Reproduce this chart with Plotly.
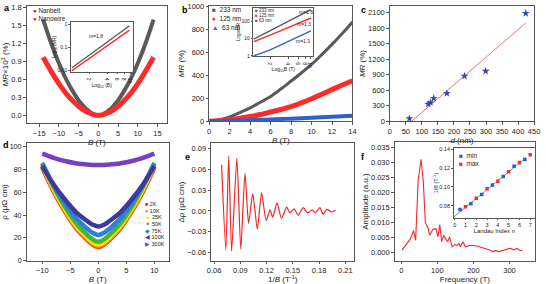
import plotly.graph_objects as go

W, H = 546, 284
FONT = "Liberation Sans, Arial, sans-serif"
TXT = "#222222"
AX = "#555555"

# ---------------- data ----------------
# a: MR x10^3 (%) vs B (T)
a_B = [-14, -12, -10, -8, -6, -5, -4, -3, -2, -1, 0, 1, 2, 3, 4, 5, 6, 8, 10, 12, 14]
a_nanobelt = [1.60, 1.21, 0.87, 0.58, 0.35, 0.25, 0.17, 0.10, 0.05, 0.012, 0.0,
              0.012, 0.05, 0.10, 0.17, 0.25, 0.35, 0.58, 0.87, 1.21, 1.60]
a_nanowire = [0.97, 0.74, 0.53, 0.35, 0.21, 0.15, 0.10, 0.06, 0.03, 0.008, 0.0,
              0.008, 0.03, 0.06, 0.10, 0.15, 0.21, 0.35, 0.53, 0.74, 0.97]
# a inset (log-log)
ai_B = [1.0, 9.7]
ai_nanobelt = [0.013, 0.90]
ai_nanowire = [0.0098, 0.58]

# b: MR (%) vs B (T)
b_B = [0, 1, 2, 3, 4, 5, 6, 7, 8, 9, 10, 11, 12, 13, 14]
b_233 = [0, 12, 38, 75, 116, 165, 215, 280, 350, 420, 495, 580, 670, 765, 865]
b_125 = [0, 4, 12, 25, 40, 58, 80, 102, 127, 160, 196, 235, 275, 315, 352]
b_63 = [0, 1, 3, 5, 8, 11, 15, 18, 22, 26, 30, 34, 38, 43, 48]
# b inset (log-log)
bi_B = [1.0, 1.9, 10.0]
bi_233 = [9.0, 27.0, 460.0]
bi_125 = [6.5, 15.0, 150.0]
bi_63 = [1.0, 2.1, 27.0]

# c: MR vs thickness
c_d = [61, 120, 127, 137, 178, 233, 299, 424]
c_MR = [50, 329, 361, 443, 538, 873, 968, 2088]
c_fit_d = [68, 424]
c_fit_MR = [0, 1900]

# d: resistivity vs B at several temperatures
d_B = [-10, -8, -6, -4, -3, -2, -1, 0, 1, 2, 3, 4, 6, 8, 10]
d_temps = ["2K", "10K", "25K", "50K", "75K", "100K", "300K"]
d_rho = {
    "2K":   [82.0, 61.0, 43.5, 28.8, 23.2, 18.3, 14.1, 12.0, 14.1, 18.3, 23.2, 28.8, 43.5, 61.0, 82.0],
    "10K":  [83.0, 61.9, 44.2, 29.4, 23.8, 18.8, 14.6, 12.5, 14.6, 18.8, 23.8, 29.4, 44.2, 61.9, 83.0],
    "25K":  [84.0, 63.0, 45.5, 30.8, 25.2, 20.3, 16.1, 14.0, 16.1, 20.3, 25.2, 30.8, 45.5, 63.0, 84.0],
    "50K":  [86.0, 65.2, 47.8, 33.2, 27.6, 22.8, 18.6, 16.5, 18.6, 22.8, 27.6, 33.2, 47.8, 65.2, 86.0],
    "75K":  [85.0, 66.3, 50.6, 37.5, 32.5, 28.1, 24.4, 22.5, 24.4, 28.1, 32.5, 37.5, 50.6, 66.3, 85.0],
    "100K": [83.0, 67.1, 53.9, 42.7, 38.5, 34.8, 31.6, 30.0, 31.6, 34.8, 38.5, 42.7, 53.9, 67.1, 83.0],
    "300K": [94.0, 90.4, 87.6, 85.6, 84.9, 84.4, 84.1, 84.0, 84.1, 84.4, 84.9, 85.6, 87.6, 90.4, 94.0],
}
d_colors = ["#ff1a1a", "#ff6a1a", "#f2e600", "#44b53a", "#2f7fd8", "#3a3aa0", "#7a3fc0"]
d_symbols = ["■", "●", "▲", "▼", "◆", "◀", "▶"]

# e: oscillatory part vs 1/B
e_x = [0.0686, 0.0734, 0.0767, 0.0800, 0.0860, 0.0905, 0.0953, 0.0994, 0.1042, 0.1094,
       0.1143, 0.1195, 0.1240, 0.1270, 0.1320, 0.1370, 0.1430, 0.1467, 0.1515, 0.1560,
       0.1620, 0.1670, 0.1720, 0.1756, 0.1810, 0.1845, 0.1890, 0.1940, 0.1990]
e_y = [0.066, -0.056, 0.079, -0.058, 0.076, -0.055, 0.054, -0.018, 0.025, -0.026,
       0.026, -0.014, 0.0014, -0.009, 0.0115, -0.0106, 0.0055, -0.003, 0.003, -0.006,
       0.0046, -0.003, 0.0014, -0.0023, 0.0046, -0.0046, 0.0023, -0.0014, 0.001]

# f: FFT amplitude
f_freq = [2, 15, 26, 34, 40, 47, 55, 61, 67, 75, 79, 88, 96, 102, 107, 112, 118, 123, 129,
          134, 141, 148, 154, 160, 164, 171, 178, 189, 202, 216, 230, 243, 253, 262, 271,
          280, 294, 303, 312, 321, 330, 336]
f_amp = [0.0008, 0.0027, 0.0046, 0.0073, 0.0041, 0.024, 0.031, 0.024, 0.010, 0.0079,
         0.0057, 0.0077, 0.0079, 0.0052, 0.0092, 0.0036, 0.0057, 0.0046, 0.0036, 0.0052,
         0.0019, 0.0027, 0.0023, 0.0030, 0.0019, 0.0036, 0.0019, 0.0023, 0.0023, 0.0019,
         0.0014, 0.0009, 0.0003, 0.0006, 0.0003, 0.0006, 0.0011, 0.0014, 0.0009, 0.0014,
         0.0006, 0.0009]
# f inset: Landau fan
fi_n_min = [0.5, 1.5, 2.5, 3.5, 4.5, 5.5, 6.5]
fi_min = [0.076, 0.082, 0.092, 0.102, 0.111, 0.122, 0.129]
fi_n_max = [1, 2, 3, 4, 5, 6, 7]
fi_max = [0.079, 0.088, 0.098, 0.106, 0.116, 0.126, 0.134]
fi_fit_n = [-0.1, 6.6]
fi_fit = [0.068, 0.131]

# ---------------- helpers ----------------
def dom_x(x0, x1):
    return [x0 / W, x1 / W]

def dom_y(y0, y1):
    return [1 - y1 / H, 1 - y0 / H]

def axis(domain, rng, title="", fs=7.5, tfs=8, standoff=1, **kw):
    d = dict(domain=domain, range=rng, showline=True, mirror=True, linecolor=AX,
             linewidth=1, ticks="outside", ticklen=2.5, tickcolor=AX, tickwidth=1,
             showgrid=False, zeroline=False, tickfont=dict(size=fs, color=TXT, family=FONT),
             title=dict(text=title, font=dict(size=tfs, color=TXT, family=FONT), standoff=standoff))
    d.update(kw)
    return d

fig = go.Figure()

# a main
fig.add_trace(go.Scatter(x=a_B, y=a_nanobelt, mode="lines", line=dict(color="#5a5a5a", width=4, shape="spline"),
                         xaxis="x", yaxis="y", showlegend=False))
fig.add_trace(go.Scatter(x=a_B, y=a_nanowire, mode="lines", line=dict(color="#ff2a2a", width=5, shape="spline"),
                         xaxis="x", yaxis="y", showlegend=False))
# a inset
fig.add_trace(go.Scatter(x=ai_B, y=ai_nanobelt, mode="lines", line=dict(color="#555555", width=1.3),
                         xaxis="x2", yaxis="y2", showlegend=False))
fig.add_trace(go.Scatter(x=ai_B, y=ai_nanowire, mode="lines", line=dict(color="#ff2a2a", width=1.3),
                         xaxis="x2", yaxis="y2", showlegend=False))
# b main
fig.add_trace(go.Scatter(x=b_B, y=b_233, mode="lines", line=dict(color="#5a5a5a", width=3, shape="spline"),
                         xaxis="x3", yaxis="y3", showlegend=False))
fig.add_trace(go.Scatter(x=b_B, y=b_125, mode="lines", line=dict(color="#ff2a2a", width=5, shape="spline"),
                         xaxis="x3", yaxis="y3", showlegend=False))
fig.add_trace(go.Scatter(x=b_B, y=b_63, mode="lines", line=dict(color="#3060c8", width=4, shape="spline"),
                         xaxis="x3", yaxis="y3", showlegend=False))
# b inset
fig.add_trace(go.Scatter(x=bi_B, y=bi_233, mode="lines", line=dict(color="#555555", width=1.4),
                         xaxis="x4", yaxis="y4", showlegend=False))
fig.add_trace(go.Scatter(x=bi_B, y=bi_125, mode="lines", line=dict(color="#ff2a2a", width=1.4),
                         xaxis="x4", yaxis="y4", showlegend=False))
fig.add_trace(go.Scatter(x=bi_B, y=bi_63, mode="lines", line=dict(color="#3060c8", width=1.4),
                         xaxis="x4", yaxis="y4", showlegend=False))
# c
fig.add_trace(go.Scatter(x=c_fit_d, y=c_fit_MR, mode="lines", line=dict(color="#f07070", width=1),
                         xaxis="x5", yaxis="y5", showlegend=False))
fig.add_trace(go.Scatter(x=c_d, y=c_MR, mode="markers", marker=dict(symbol="star", size=6, color="#3346b8"),
                         xaxis="x5", yaxis="y5", showlegend=False))
# d
for t, col in zip(d_temps, d_colors):
    fig.add_trace(go.Scatter(x=d_B, y=d_rho[t], mode="lines", line=dict(color=col, width=4.5, shape="spline"),
                             xaxis="x6", yaxis="y6", showlegend=False))
# e
fig.add_trace(go.Scatter(x=e_x, y=e_y, mode="lines", line=dict(color="#f02828", width=1.2, shape="spline", smoothing=0.6),
                         xaxis="x7", yaxis="y7", showlegend=False))
# f
fig.add_trace(go.Scatter(x=f_freq, y=f_amp, mode="lines", line=dict(color="#f02828", width=1.1),
                         xaxis="x8", yaxis="y8", showlegend=False))
# f inset
fig.add_trace(go.Scatter(x=fi_fit_n, y=fi_fit, mode="lines", line=dict(color="#3cb371", width=1),
                         xaxis="x9", yaxis="y9", showlegend=False))
fig.add_trace(go.Scatter(x=fi_n_min, y=fi_min, mode="markers", marker=dict(symbol="square", size=3.5, color="#3355dd"),
                         xaxis="x9", yaxis="y9", showlegend=False))
fig.add_trace(go.Scatter(x=fi_n_max, y=fi_max, mode="markers", marker=dict(symbol="square", size=3.5, color="#ff2a2a"),
                         xaxis="x9", yaxis="y9", showlegend=False))

lay = dict(width=W, height=H, margin=dict(l=0, r=0, t=0, b=0), paper_bgcolor="white",
           plot_bgcolor="white", font=dict(family=FONT, color=TXT), showlegend=False)

# a
lay["xaxis"] = axis(dom_x(23, 166), [-18.2, 17.4], "<i>B</i> (T)", tickvals=[-15, -10, -5, 0, 5, 10, 15], anchor="y")
lay["yaxis"] = axis(dom_y(2, 123), [-0.13, 1.83], "<i>MR</i>×10<sup>3</sup> (%)",
                    tickvals=[0, 0.3, 0.6, 0.9, 1.2, 1.5, 1.8], tickformat=".1f", anchor="x")
# a inset
lay["xaxis2"] = axis(dom_x(68, 131), [-0.02, 1.04], "Log<sub>10</sub> (B)", fs=5, tfs=5, type="log",
                     tickvals=[2, 4, 6, 8, 10], ticktext=["2", "4", "6", "8", "10"], anchor="y2", ticklen=1.5,
                     standoff=0)
lay["yaxis2"] = axis(dom_y(19, 70), [-2.06, 0.1], "Log<sub>10</sub> (MR)", fs=5, tfs=4.5, type="log",
                     tickvals=[0.01, 0.1, 1], ticktext=["0.01", "0.1", "1"], anchor="x2", ticklen=1.5,
                     standoff=0)
# b
lay["xaxis3"] = axis(dom_x(209, 355), [0, 14], "<i>B</i> (T)", tickvals=list(range(0, 15, 2)), anchor="y3")
lay["yaxis3"] = axis(dom_y(2, 121), [0, 1005], "<i>MR</i> (%)", tickvals=[0, 200, 400, 600, 800, 1000], anchor="x3")
# b inset
lay["xaxis4"] = axis(dom_x(254, 315), [-0.005, 1.04], "Log<sub>10</sub>B (T)", fs=5, tfs=5, type="log",
                     tickvals=[2, 4, 6, 8, 10], ticktext=["2", "4", "6", "8", "10"], anchor="y4", ticklen=1.5,
                     standoff=0)
lay["yaxis4"] = axis(dom_y(4, 54), [-0.03, 2.76], "Log<sub>10</sub>MR", fs=5, tfs=4.5, type="log",
                     tickvals=[1, 10, 100], ticktext=["1", "10", "100"], anchor="x4", ticklen=1.5,
                     standoff=0)
# c
lay["xaxis5"] = axis(dom_x(393, 540), [0, 450], "<i>d</i> (nm)", tickvals=list(range(0, 451, 50)), anchor="y5")
lay["yaxis5"] = axis(dom_y(2, 121), [0, 2230], "<i>MR</i> (%)", tickvals=list(range(0, 2101, 300)), anchor="x5")
# d
lay["xaxis6"] = axis(dom_x(23, 168), [-12.8, 12.6], "<i>B</i> (T)", tickvals=[-10, -5, 0, 5, 10], anchor="y6")
lay["yaxis6"] = axis(dom_y(144, 265), [0, 103], "ρ (μΩ cm)", tickvals=[0, 20, 40, 60, 80, 100], anchor="x6",
                     fs=7.2)
# e
lay["xaxis7"] = axis(dom_x(211, 357), [0.0566, 0.2205], "1/<i>B</i> (T<sup>-1</sup>)",
                     tickvals=[0.06, 0.09, 0.12, 0.15, 0.18, 0.21], tickformat=".2f", anchor="y7")
lay["yaxis7"] = axis(dom_y(144, 265), [-0.0715, 0.097], "Δρ (μΩ cm)",
                     tickvals=[-0.06, -0.03, 0, 0.03, 0.06, 0.09], tickformat=".2f", anchor="x7")
# f
lay["xaxis8"] = axis(dom_x(398, 541), [-18, 371], "Frequency (T)", tickvals=[0, 100, 200, 300], anchor="y8")
lay["yaxis8"] = axis(dom_y(143, 265), [-0.0027, 0.0366], "Amplitude (a.u.)",
                     tickvals=[0, 0.005, 0.01, 0.015, 0.02, 0.025, 0.03, 0.035], tickformat=".3f", anchor="x8")
# f inset
lay["xaxis9"] = axis(dom_x(458, 541), [-0.1, 7.45], "Landau Index n", fs=5.5, tfs=6,
                     tickvals=list(range(0, 8)), anchor="y9", ticklen=1.5, standoff=0)
lay["yaxis9"] = axis(dom_y(149, 221), [0.067, 0.141], "1/B (T<sup>-1</sup>)", fs=5.5, tfs=5.5,
                     tickvals=[0.08, 0.10, 0.12, 0.14], tickformat=".2f", anchor="x9", ticklen=1.5,
                     standoff=0)

ann = []

def text(px, py, s, size=7, xanchor="left", yanchor="middle", color=TXT):
    ann.append(dict(x=px / W, y=1 - py / H, xref="paper", yref="paper", text=s, showarrow=False,
                    xanchor=xanchor, yanchor=yanchor, borderpad=0,
                    font=dict(size=size, color=color, family=FONT)))

def key(px, py, sym, col, label, size=7, gap="  "):
    text(px, py, "<span style='color:%s'>%s</span>%s%s" % (col, sym, gap, label), size=size)

# panel letters
for lab, (px, py) in zip("abcdef", [(-1, -2), (180, 0), (363, 0), (-2, 139), (183, 152), (363, 152)]):
    text(px, py, "<b>%s</b>" % lab, size=9, yanchor="top", color="#000")

# a legend
key(29, 6.5, "●", "#5a5a5a", "Nanbelt", size=6.3, gap=" ")
key(29, 15.0, "●", "#ff2a2a", "Nanowire", size=6.3, gap=" ")
text(86, 33, "m=1.8", size=5)
# b legend
key(211, 6, "■", "#5a5a5a", "233 nm", size=6.5)
key(211, 15, "●", "#ff2a2a", "125 nm", size=6.5)
key(211, 24, "▲", "#3060c8", "63 nm", size=6.5)
key(255, 6.5, "■", "#5a5a5a", "233 nm", size=4.5, gap=" ")
key(255, 12, "■", "#ff2a2a", "125 nm", size=4.5, gap=" ")
key(255, 17.5, "■", "#3060c8", "63 nm", size=4.5, gap=" ")
text(299, 8.5, "m=1.6", size=5)
text(297, 20.5, "m=1.3", size=5)
text(296, 38, "m=1.3", size=5)
# d legend
for i, (t, col, sym) in enumerate(zip(d_temps, d_colors, d_symbols)):
    key(143, 206.5 + i * 6.9, sym, col, t, size=5.5, gap=" ")
# f inset legend
key(462, 156, "■", "#3355dd", "min", size=6.5)
key(462, 165, "■", "#ff2a2a", "max", size=6.5)

lay["annotations"] = ann
fig.update_layout(**lay)
fig.write_html("out.html")
